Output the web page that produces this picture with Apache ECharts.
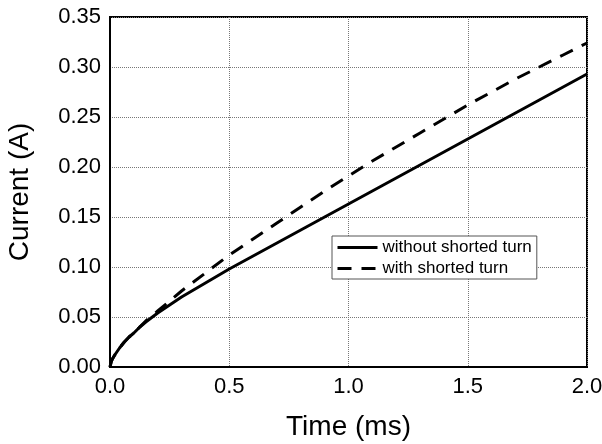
<!DOCTYPE html>
<html>
<head>
<meta charset="utf-8">
<script src="https://cdn.jsdelivr.net/npm/echarts@6/dist/echarts.min.js"></script>
<style>
  html, body { margin: 0; padding: 0; background: #fff; }
  #chart { width: 602px; height: 444px; }
</style>
</head>
<body>
<div id="chart"></div>
<script>
// Coil current transient, with and without a shorted turn
const timeMs = [0, 0.005, 0.01, 0.02, 0.04, 0.06, 0.08, 0.1, 0.125, 0.15, 0.2, 0.25, 0.3, 0.4, 0.5,
  0.6, 0.7, 0.8, 0.9, 1.0, 1.1, 1.2, 1.3, 1.4, 1.5, 1.6, 1.7, 1.8, 1.9, 2.0];
const withoutShorted = [0, 0.005, 0.008, 0.012, 0.019, 0.025, 0.030, 0.034, 0.040, 0.045, 0.054, 0.062, 0.070, 0.084, 0.098,
  0.111, 0.124, 0.137, 0.150, 0.163, 0.176, 0.189, 0.202, 0.215, 0.228, 0.241, 0.254, 0.267, 0.280, 0.293];
const withShorted = [0, 0.005, 0.008, 0.012, 0.019, 0.025, 0.030, 0.034, 0.040, 0.046, 0.056, 0.066, 0.076, 0.094, 0.112,
  0.128, 0.144, 0.160, 0.176, 0.191, 0.206, 0.220, 0.234, 0.248, 0.262, 0.275, 0.288, 0.300, 0.312, 0.324];
const xTicks = { min: 0, max: 2, interval: 0.5 };
const yTicks = { min: 0, max: 0.35, interval: 0.05 };
const seriesNames = ['without shorted turn', 'with shorted turn'];

const pairs = (xs, ys) => xs.map((x, i) => [x, ys[i]]);
const font = 'Liberation Sans, Arial, sans-serif';

const chart = echarts.init(document.getElementById('chart'), null, { renderer: 'canvas' });
chart.setOption({
  animation: false,
  backgroundColor: '#ffffff',
  textStyle: { fontFamily: font, color: '#000' },
  grid: {
    left: 110, right: 15, top: 17, bottom: 77,
    outerBoundsMode: 'none',
    containLabel: false,
    show: true, borderColor: '#000', borderWidth: 2, backgroundColor: 'transparent'
  },
  legend: {
    data: seriesNames,
    orient: 'vertical',
    left: 332, top: 236,
    padding: [3, 5, 2, 4],
    itemGap: 4,
    itemWidth: 40, itemHeight: 14,
    borderColor: '#555', borderWidth: 1,
    backgroundColor: '#fff',
    itemStyle: { color: 'transparent', borderWidth: 0, opacity: 0 },
    lineStyle: { width: 3, color: '#000' },
    textStyle: { fontSize: 17, fontFamily: font, color: '#000', lineHeight: 17 }
  },
  xAxis: {
    type: 'value',
    min: xTicks.min, max: xTicks.max, interval: xTicks.interval,
    name: 'Time (ms)',
    nameLocation: 'middle',
    nameGap: 46,
    nameTextStyle: { fontSize: 28, fontFamily: font, color: '#000' },
    axisLine: { show: true, lineStyle: { color: '#000', width: 2 } },
    axisTick: { show: false },
    axisLabel: { fontSize: 22, fontFamily: font, color: '#000', margin: 9,
      formatter: v => v.toFixed(1) },
    splitLine: { show: true, lineStyle: { color: '#777', width: 1, type: [1, 1] } }
  },
  yAxis: {
    type: 'value',
    min: yTicks.min, max: yTicks.max, interval: yTicks.interval,
    name: 'Current (A)',
    nameLocation: 'middle',
    nameRotate: 90,
    nameGap: 76,
    nameTextStyle: { fontSize: 28, fontFamily: font, color: '#000' },
    axisLine: { show: true, lineStyle: { color: '#000', width: 2 } },
    axisTick: { show: false },
    axisLabel: { fontSize: 22, fontFamily: font, color: '#000', margin: 9,
      formatter: v => v.toFixed(2) },
    splitLine: { show: true, lineStyle: { color: '#777', width: 1, type: [1, 1] } }
  },
  series: [
    {
      name: seriesNames[0],
      type: 'line',
      data: pairs(timeMs, withoutShorted),
      showSymbol: false, symbol: 'none',
      smooth: false,
      lineStyle: { color: '#000', width: 3 },
      itemStyle: { color: '#000' }
    },
    {
      name: seriesNames[1],
      type: 'line',
      data: pairs(timeMs, withShorted),
      showSymbol: false, symbol: 'none',
      smooth: false,
      lineStyle: { color: '#000', width: 3, type: [14, 10] },
      itemStyle: { color: '#000' }
    }
  ]
});
</script>
</body>
</html>
